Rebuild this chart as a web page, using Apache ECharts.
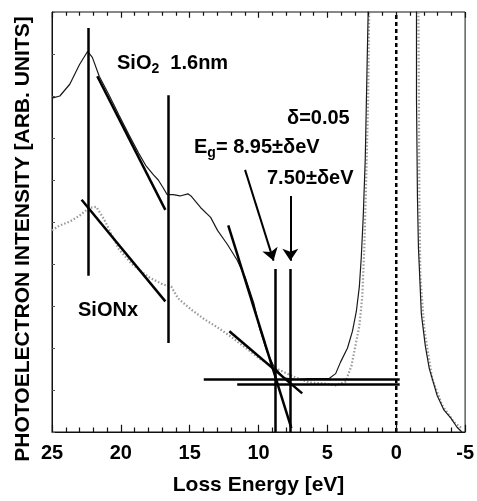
<!DOCTYPE html>
<html>
<head>
<meta charset="utf-8">
<script src="https://cdn.jsdelivr.net/npm/echarts@6/dist/echarts.min.js"></script>
<style>
  html, body { margin: 0; padding: 0; background: #fff; }
  #chart { width: 477px; height: 501px; }
</style>
</head>
<body>
<div id="chart"></div>
<script>
// SiO2 1.6nm spectrum (loss energy eV, intensity arb.)
var sio2Energy = [25.00, 24.43, 23.71, 23.00, 22.42, 22.07, 21.57, 20.85, 20.14, 19.42, 18.71, 18.20, 17.63, 17.28, 16.92, 16.63,
  16.20, 15.70, 15.13, 14.91, 14.20, 13.48, 12.98, 12.27, 11.55, 10.98, 10.34, 9.91, 9.41, 8.91, 8.19, 7.26, 6.33, 4.90,
  4.40, 4.04, 3.54, 3.18, 2.90, 2.68, 2.54, 2.40, 2.25, 2.11, 2.04, 1.90, -1.30,
  -1.47, -1.47, -1.54, -1.61, -1.82, -2.11, -2.40, -2.97, -3.47, -3.97, -4.40, -4.76];
var sio2Intensity = [79.5, 80.0, 82.8, 87.5, 90.6, 89.2, 84.7, 80.2, 75.5, 70.8, 66.4, 63.5, 61.2, 60.0, 58.1, 56.5,
  56.5, 56.2, 56.7, 56.2, 53.4, 51.1, 48.0, 44.7, 40.9, 36.9, 30.6, 24.5, 19.3, 15.8, 12.9, 12.5, 12.7, 12.7,
  13.9, 16.7, 20.0, 24.0, 28.7, 34.6, 41.6, 51.1, 65.2, 88.7, 100, 115, 115,
  100, 79.3, 55.8, 44.0, 28.2, 20.5, 15.1, 8.7, 5.2, 3.3, 1.2, 0];

// SiONx spectrum
var sionEnergy = [25.00, 24.43, 23.71, 23.00, 22.28, 21.78, 21.21, 20.85, 20.14, 19.21, 17.99, 16.92, 16.34, 15.84, 14.91,
  13.91, 12.98, 12.05, 10.84, 9.91, 8.69, 7.47, 6.33, 5.11, 4.40, 3.68, 3.25, 2.97, 2.68, 2.47, 2.32, 2.18, 2.04, 1.97,
  1.90, -1.50, -1.61, -1.68, -1.75, -2.04, -2.61, -3.33, -4.18, -4.76];
var sionIntensity = [48.0, 49.2, 50.1, 51.5, 53.4, 53.6, 50.6, 48.2, 43.5, 40.0, 36.9, 35.1, 34.6, 31.8, 29.2,
  26.8, 24.9, 22.8, 19.8, 17.4, 15.1, 13.2, 11.8, 11.5, 11.1, 12.0, 15.8, 20.5, 25.2, 32.2, 44.0, 60.5, 79.3, 100,
  115, 115, 100, 55.8, 36.9, 24.5, 12.7, 6.4, 2.4, 0.9];

// straight fit lines [E1, I1, E2, I2]
var fitLines = [
  [22.39, 96.2, 22.39, 37.2],
  [16.56, 80.2, 16.56, 21.2],
  [21.71, 84.7, 16.77, 52.9],
  [22.85, 55.3, 16.77, 31.1],
  [12.20, 49.2, 7.62, 0.9],
  [12.12, 24.0, 6.83, 9.2],
  [8.76, 38.8, 8.76, 0],
  [7.69, 38.8, 7.69, 0],
  [13.98, 12.47, -0.25, 12.47],
  [11.55, 11.29, -0.25, 11.29]
];
var arrowLines = [
  [10.98, 62.4, 8.91, 40.8],
  [7.69, 56.2, 7.69, 40.8]
];
var zeroLine = [[0, 0], [0, 100]];

// energy axis ticks (eV)
var majorTicks = [-5, 0, 5, 10, 15, 20, 25];
var minorTicks = [-4, -3, -2, -1, 1, 2, 3, 4, 6, 7, 8, 9, 11, 12, 13, 14, 16, 17, 18, 19, 21, 22, 23, 24];

var xTicks = { min: -5, max: 25, interval: 5 };

function zip(xs, ys) {
  return xs.map(function (x, i) { return [x, ys[i]]; });
}
function toCoords(list) {
  return list.map(function (l) { return { coords: [[l[0], l[1]], [l[2], l[3]]] }; });
}
// short inward tick segments on the bottom (0) and top (100) frame, length in intensity units
function tickSegs(values, len) {
  var out = [];
  values.forEach(function (e) {
    out.push({ coords: [[e, 0], [e, len]] });
    out.push({ coords: [[e, 100], [e, 100 - len * 0.8]] });
  });
  return out;
}

var FONT = "'Liberation Sans', Arial, sans-serif";
var chart = echarts.init(document.getElementById('chart'));

chart.setOption({
  animation: false,
  grid: { left: 52, right: 6, top: 12, bottom: 64, show: true, borderColor: '#111', borderWidth: 1 },
  xAxis: [
    {
      type: 'value', inverse: true,
      min: xTicks.min, max: xTicks.max, interval: xTicks.interval,
      axisLine: { show: true, onZero: false, lineStyle: { color: '#111' } },
      axisTick: { show: false },
      splitLine: { show: false },
      axisLabel: { fontSize: 20, fontWeight: 'bold', fontFamily: FONT, color: '#000', margin: 11, showMinLabel: true, showMaxLabel: true },
      name: 'Loss Energy [eV]', nameLocation: 'middle', nameGap: 43,
      nameTextStyle: { fontSize: 21, fontWeight: 'bold', fontFamily: FONT, color: '#000' }
    }
  ],
  yAxis: [
    {
      type: 'value', min: 0, max: 100, interval: 10,
      axisLine: { show: true, onZero: false, lineStyle: { color: '#111' } },
      axisTick: { show: true, inside: true, length: 3, lineStyle: { color: '#555' } },
      splitLine: { show: false },
      axisLabel: { show: false }
    }
  ],
  series: [
    {
      name: 'SiONx', type: 'line', data: zip(sionEnergy, sionIntensity),
      showSymbol: false, clip: true, z: 2,
      lineStyle: { color: '#999', width: 2.2, type: [1.5, 2] }
    },
    {
      name: 'SiO2', type: 'line', data: zip(sio2Energy, sio2Intensity),
      showSymbol: false, clip: true, z: 3,
      lineStyle: { color: '#1a1a1a', width: 1.2 }
    },
    {
      name: 'zero', type: 'line', data: zeroLine,
      showSymbol: false, z: 4,
      lineStyle: { color: '#000', width: 2.5, type: [4, 3] }
    },
    {
      name: 'fits', type: 'lines', coordinateSystem: 'cartesian2d',
      data: toCoords(fitLines), symbol: 'none', z: 5,
      lineStyle: { color: '#000', width: 2.5, opacity: 1 }
    },
    {
      name: 'arrows', type: 'lines', coordinateSystem: 'cartesian2d',
      data: toCoords(arrowLines), symbol: ['none', 'arrow'], symbolSize: 12, z: 5,
      lineStyle: { color: '#000', width: 2, opacity: 1 }
    },
    {
      name: 'ticks', type: 'lines', coordinateSystem: 'cartesian2d', silent: true,
      data: tickSegs(majorTicks, 1.7).concat(tickSegs(minorTicks, 1.1)), symbol: 'none', z: 6,
      lineStyle: { color: '#111', width: 1.2, opacity: 1 }
    }
  ],
  graphic: [
    {
      type: 'text', x: 23, y: 239, rotation: Math.PI / 2,
      style: {
        text: 'PHOTOELECTRON INTENSITY [ARB. UNITS]',
        fontSize: 21, fontWeight: 'bold', fontFamily: FONT, fill: '#000',
        textAlign: 'center', textVerticalAlign: 'middle'
      }
    },
    {
      type: 'text', x: 117, y: 63,
      style: {
        text: '{a|SiO}{s|2}{a|  1.6nm}',
        textAlign: 'left', textVerticalAlign: 'middle',
        rich: {
          a: { fontSize: 20, fontWeight: 'bold', fontFamily: FONT, fill: '#000', lineHeight: 26 },
          s: { fontSize: 14, fontWeight: 'bold', fontFamily: FONT, fill: '#000', lineHeight: 26, verticalAlign: 'bottom' }
        }
      }
    },
    {
      type: 'text', x: 287, y: 118,
      style: { text: 'δ=0.05', fontSize: 20, fontWeight: 'bold', fontFamily: FONT, fill: '#000', textAlign: 'left', textVerticalAlign: 'middle' }
    },
    {
      type: 'text', x: 194, y: 147,
      style: {
        text: '{a|E}{s|g}{a|= 8.95±δeV}',
        textAlign: 'left', textVerticalAlign: 'middle',
        rich: {
          a: { fontSize: 20, fontWeight: 'bold', fontFamily: FONT, fill: '#000', lineHeight: 26 },
          s: { fontSize: 14, fontWeight: 'bold', fontFamily: FONT, fill: '#000', lineHeight: 26, verticalAlign: 'bottom' }
        }
      }
    },
    {
      type: 'text', x: 267, y: 178,
      style: { text: '7.50±δeV', fontSize: 20, fontWeight: 'bold', fontFamily: FONT, fill: '#000', textAlign: 'left', textVerticalAlign: 'middle' }
    },
    {
      type: 'text', x: 78, y: 310,
      style: { text: 'SiONx', fontSize: 20, fontWeight: 'bold', fontFamily: FONT, fill: '#000', textAlign: 'left', textVerticalAlign: 'middle' }
    }
  ]
});
</script>
</body>
</html>
